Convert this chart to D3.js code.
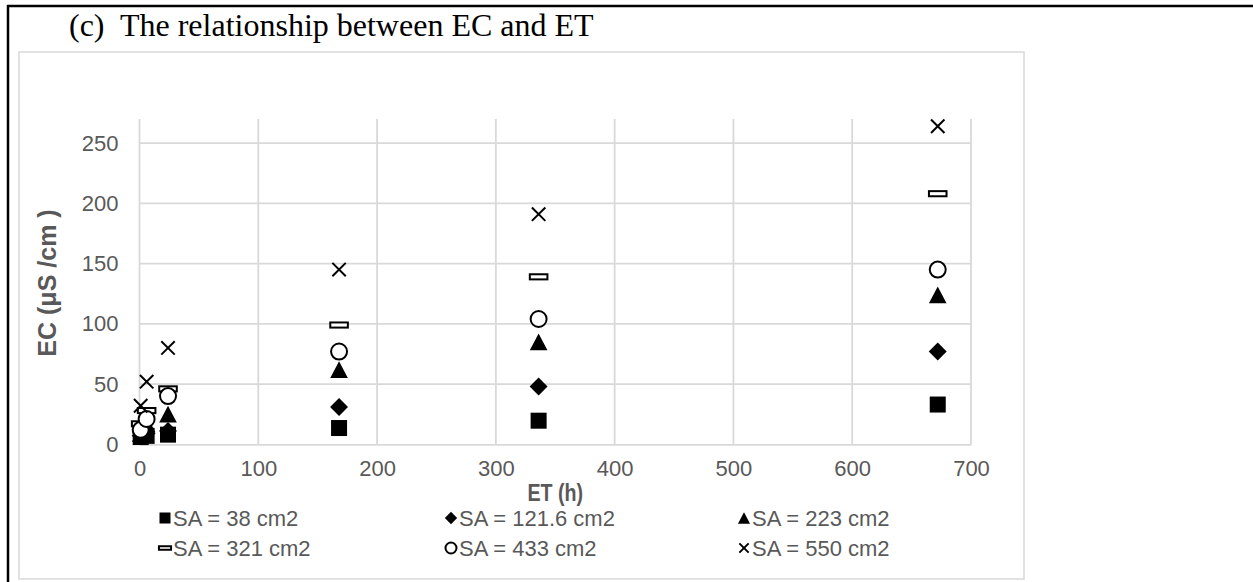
<!DOCTYPE html>
<html><head><meta charset="utf-8">
<script src="https://cdn.jsdelivr.net/npm/d3@7"></script>
<style>html,body{margin:0;padding:0;background:#fff;}svg{display:block;}</style>
</head><body>
<script>
const times = [1, 6, 24, 168, 336, 672];
const seriesNames = ["SA = 38 cm2", "SA = 121.6 cm2", "SA = 223 cm2", "SA = 321 cm2", "SA = 433 cm2", "SA = 550 cm2"];
const sa38  = [6, 7, 8, 13.5, 19.6, 33];
const sa122 = [7, 9, 11, 31, 48, 77];
const sa223 = [9, 17, 25, 62, 85, 124];
const sa321 = [17, 28, 46, 99, 139, 208];
const sa433 = [12, 21, 40, 77, 104, 145];
const sa550 = [32, 52, 80, 145, 191, 264];
const xTicks = [0, 100, 200, 300, 400, 500, 600, 700];
const yTicks = [0, 50, 100, 150, 200, 250];
const markers = ["square", "diamond", "triangle", "dash", "circle", "cross"];
const seriesValues = [sa38, sa122, sa223, sa321, sa433, sa550];

const W = 1253, H = 582;
const svg = d3.select("body").append("svg").attr("width", W).attr("height", H);
const grid = "#d9d9d9", txt = "#595959";
const font = "'Liberation Sans', Arial, sans-serif";

// outer frame (top and left lines)
svg.append("line").attr("x1", 7).attr("x2", W).attr("y1", 6).attr("y2", 6).attr("stroke", "#000").attr("stroke-width", 2.5);
svg.append("line").attr("x1", 8).attr("x2", 8).attr("y1", 5).attr("y2", H).attr("stroke", "#000").attr("stroke-width", 2.5);

// title
svg.append("text").attr("x", 69).attr("y", 36).attr("font-family", "'Liberation Serif', 'Times New Roman', serif")
  .attr("font-size", 32).attr("fill", "#000").attr("xml:space", "preserve").text("(c)  The relationship between EC and ET");

// chart area border
svg.append("rect").attr("x", 19).attr("y", 52).attr("width", 1005).attr("height", 527)
  .attr("fill", "none").attr("stroke", grid).attr("stroke-width", 1.5);

const x = d3.scaleLinear().domain([0, 700]).range([139.5, 971]);
const y = d3.scaleLinear().domain([0, 270]).range([444.3, 119]);

// gridlines
const g = svg.append("g");
g.selectAll(".hg").data(yTicks.filter(d => d > 0)).join("line")
  .attr("x1", x(0)).attr("x2", x(700)).attr("y1", d => y(d)).attr("y2", d => y(d))
  .attr("stroke", grid).attr("stroke-width", 1.8);
g.selectAll(".vg").data(xTicks).join("line")
  .attr("x1", d => x(d)).attr("x2", d => x(d)).attr("y1", y(0)).attr("y2", y(270))
  .attr("stroke", grid).attr("stroke-width", 1.8);

// axes
const xAxis = svg.append("g").attr("transform", `translate(0,${y(0)})`)
  .call(d3.axisBottom(x).tickValues(xTicks).tickSize(0).tickPadding(16).tickFormat(d3.format("d")));
xAxis.select(".domain").attr("stroke", grid).attr("stroke-width", 1.8);
xAxis.selectAll("text").attr("font-family", font).attr("font-size", 22).attr("fill", txt);

const yAxis = svg.append("g").attr("transform", `translate(${x(0)},0)`)
  .call(d3.axisLeft(y).tickValues(yTicks).tickSize(0).tickPadding(21).tickFormat(d3.format("d")));
yAxis.select(".domain").remove();
yAxis.selectAll("text").attr("font-family", font).attr("font-size", 22).attr("fill", txt);

// axis titles
svg.append("text").attr("transform", `translate(${x(350)},501) scale(0.82,1)`).attr("text-anchor", "middle")
  .attr("font-family", font).attr("font-weight", "bold").attr("font-size", 24).attr("fill", txt).text("ET (h)");
svg.append("text").attr("transform", "translate(56,283) rotate(-90)").attr("text-anchor", "middle")
  .attr("font-family", font).attr("font-weight", "bold").attr("font-size", 25).attr("fill", txt).text("EC (μS /cm )");

// marker drawer
function drawMarker(sel, type, s) {
  if (type === "square") {
    sel.append("rect").attr("x", -s/2).attr("y", -s/2).attr("width", s).attr("height", s).attr("fill", "#000");
  } else if (type === "diamond") {
    const r = s * 0.56;
    sel.append("path").attr("d", `M0,${-r}L${r},0L0,${r}L${-r},0Z`).attr("fill", "#000");
  } else if (type === "triangle") {
    const w = s * 1.1, h = s * 1.05;
    sel.append("path").attr("d", `M0,${-h/2}L${w/2},${h/2}L${-w/2},${h/2}Z`).attr("fill", "#000");
  } else if (type === "dash") {
    sel.append("rect").attr("x", -s*0.55).attr("y", -s*0.16).attr("width", s*1.1).attr("height", s*0.32)
      .attr("fill", "#fff").attr("stroke", "#000").attr("stroke-width", 2);
  } else if (type === "circle") {
    sel.append("circle").attr("r", s/2).attr("fill", "#fff").attr("stroke", "#000").attr("stroke-width", 2);
  } else if (type === "cross") {
    const r = s * 0.42;
    sel.append("path").attr("d", `M${-r},${-r}L${r},${r}M${-r},${r}L${r},${-r}`).attr("stroke", "#000").attr("stroke-width", 2).attr("fill", "none");
  }
}

// points
seriesValues.forEach((vals, i) => {
  const sg = svg.append("g");
  vals.forEach((v, j) => {
    const m = sg.append("g").attr("transform", `translate(${x(times[j])},${y(v)})`);
    drawMarker(m, markers[i], 16);
  });
});

// legend
const colX = [165, 451, 744];
const rowY = [518, 548];
seriesNames.forEach((name, i) => {
  const cx = colX[i % 3], cy = rowY[Math.floor(i / 3)];
  const lg = svg.append("g").attr("transform", `translate(${cx},${cy})`);
  drawMarker(lg, markers[i], 11);
  lg.append("text").attr("x", 8).attr("y", 8).attr("font-family", font).attr("font-size", 22).attr("fill", txt).text(name);
});
</script>
</body></html>
